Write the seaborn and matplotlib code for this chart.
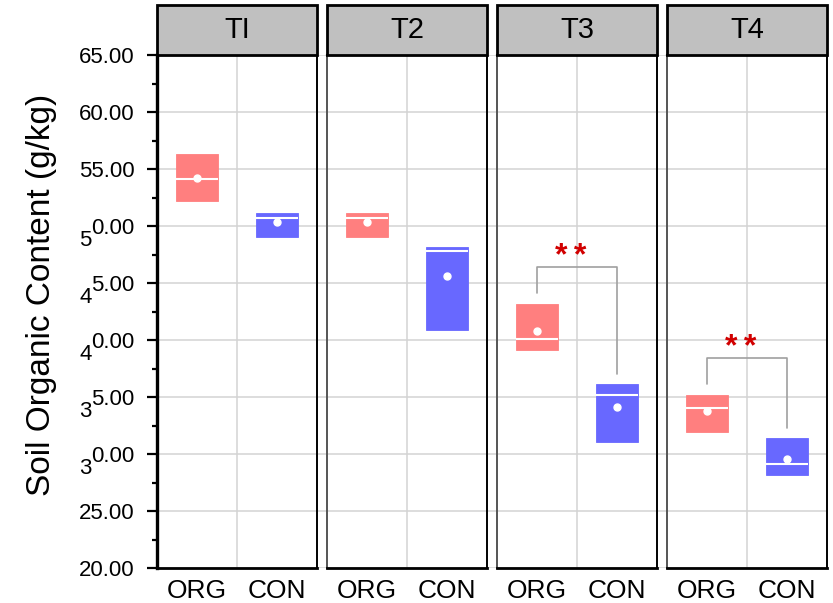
import matplotlib
matplotlib.use("Agg")
import matplotlib.pyplot as plt
from matplotlib.patches import Rectangle
from matplotlib.ticker import FuncFormatter, MultipleLocator
from matplotlib.transforms import IdentityTransform
import pandas as pd
import seaborn as sns

# ---- data ----------------------------------------------------------------
periods = ["TI", "T2", "T3", "T4"]
groups = ["ORG", "CON"]

org_low = [52.17, 49.06, 39.09, 31.94]
org_high = [56.30, 51.17, 43.18, 35.21]
org_median = [54.10, 50.73, 40.10, 34.05]
org_mean = [54.24, 50.35, 40.78, 33.76]

con_low = [49.06, 40.84, 31.06, 28.20]
con_high = [51.17, 48.17, 36.15, 31.36]
con_median = [50.73, 47.80, 35.19, 29.10]
con_mean = [50.35, 45.61, 34.13, 29.57]

significance = ["", "", "*\u2009*", "*\u2009*"]

y_ticks = [20, 25, 30, 35, 40, 45, 50, 55, 60, 65]
# tick labels whose leading digit is printed dropped below the rest
dropped_digit_ticks = [30, 35, 40, 45, 50]

palette = {"ORG": "#FF7F7F", "CON": "#6868FF"}

rows = []
for i, p in enumerate(periods):
    rows.append(dict(period=p, group="ORG", low=org_low[i], high=org_high[i],
                     median=org_median[i], mean=org_mean[i], sig=significance[i]))
    rows.append(dict(period=p, group="CON", low=con_low[i], high=con_high[i],
                     median=con_median[i], mean=con_mean[i], sig=significance[i]))
df = pd.DataFrame(rows)

# ---- style ---------------------------------------------------------------
sns.set_theme(style="white")
plt.rcParams["font.family"] = ["Liberation Sans", "DejaVu Sans"]

W, H, DPI = 833, 603, 100
grid_color = "#D3D3D3"


def draw_boxes(data, **kws):
    ax = plt.gca()
    data = data.set_index("group").loc[groups].reset_index()
    stats = [dict(med=r.median, q1=r.low, q3=r.high, whislo=r.low, whishi=r.high,
                  mean=r.mean, fliers=[]) for r in data.itertuples()]
    parts = ax.bxp(stats, positions=range(len(stats)), widths=0.52,
                   patch_artist=True, showmeans=True, showcaps=False,
                   showfliers=False, manage_ticks=False,
                   whiskerprops=dict(linewidth=0),
                   medianprops=dict(color="white", linewidth=1.5),
                   meanprops=dict(marker="o", markerfacecolor="white",
                                  markeredgecolor="white", markersize=5))
    for patch, grp in zip(parts["boxes"], data["group"]):
        patch.set_facecolor(palette[grp])
        patch.set_edgecolor(palette[grp])
        patch.set_linewidth(0.6)
        patch.set_zorder(2)
    for line in parts["medians"] + parts["means"]:
        line.set_zorder(3)

    # significance bracket between the two groups
    sig = data["sig"].iloc[0]
    if sig:
        leg_gap, rise = 0.9, 2.35
        y_left = data["high"].iloc[0] + leg_gap
        y_right = data["high"].iloc[1] + leg_gap
        y_top = max(y_left, y_right) + rise
        ax.plot([0, 0, 1, 1], [y_left, y_top, y_top, y_right],
                color="#A0A0A0", lw=1.2, zorder=2)
        ax.text(0.42, y_top + 0.15, sig, color="#D10000", fontsize=23,
                fontweight="bold", ha="center", va="baseline", zorder=4)


g = sns.FacetGrid(df, col="period", col_order=periods, sharey=True,
                  sharex=False, despine=False, height=5, aspect=0.3)
g.map_dataframe(draw_boxes)
fig = g.figure
fig.set_size_inches(W / DPI, H / DPI)
fig.set_dpi(DPI)
fig.patch.set_facecolor("white")
g.set_titles("")

left, right = 157 / W, 827 / W
bottom, top = 1 - 568 / H, 1 - 55 / H
fig.subplots_adjust(left=left, right=right, bottom=bottom, top=top,
                    wspace=10 / 160)

# horizontal grid running across all panels
bg = fig.add_axes([left, bottom, right - left, top - bottom], zorder=-1)
bg.set_ylim(20, 65)
for yv in y_ticks:
    bg.axhline(yv, color=grid_color, lw=1.1)
bg.axis("off")

axes = g.axes.flat
header_h = 50 / 513
for i, (ax, p) in enumerate(zip(axes, periods)):
    ax.set_facecolor("none")
    ax.set_xlim(-0.5, 1.5)
    ax.set_ylim(20, 65)
    ax.set_xticks(range(len(groups)))
    ax.set_xticklabels(groups)
    ax.set_xlabel("")
    ax.set_ylabel("")
    ax.axvline(0.5, color=grid_color, lw=1.1, zorder=0)
    ax.tick_params(axis="x", length=0, pad=8, labelsize=19, labelcolor="black")
    for side in ["top", "right", "bottom", "left"]:
        ax.spines[side].set_color("black")
        ax.spines[side].set_visible(True)
    ax.spines["bottom"].set_linewidth(2.0)
    ax.spines["right"].set_linewidth(1.4)
    ax.spines["top"].set_linewidth(1.5)
    if i == 0:
        ax.spines["left"].set_linewidth(2.4)
    else:
        ax.spines["left"].set_linewidth(1.4)
        ax.spines["left"].set_color("#555555")
        ax.tick_params(axis="y", which="both", length=0, labelleft=False)

    # panel header strip
    ax.add_patch(Rectangle((0, 1), 1, header_h, transform=ax.transAxes,
                           facecolor="#C0C0C0", edgecolor="black", lw=2,
                           clip_on=False, zorder=5))
    ax.text(0.5, 1 + header_h / 2, p, transform=ax.transAxes, ha="center",
            va="center", fontsize=21, color="black", zorder=6)

ax0 = g.axes.flat[0]
ax0.set_yticks(y_ticks)
ax0.yaxis.set_minor_locator(MultipleLocator(2.5))


def fmt(v, pos):
    s = f"{v:.2f}"
    return s[1:] if int(round(v)) in dropped_digit_ticks else s


ax0.yaxis.set_major_formatter(FuncFormatter(fmt))
ax0.tick_params(axis="y", which="major", direction="out", length=7.5,
                width=1.6, pad=8.5, labelsize=16, labelcolor="black",
                color="black", left=True)
ax0.tick_params(axis="y", which="minor", direction="out", length=3.8,
                width=1.6, color="black", left=True)

fig.text(42 / W, 1 - 295 / H, "Soil Organic Content (g/kg)", rotation=90,
         ha="center", va="center", fontsize=24, color="black")

# leading digits of the dropped labels
fig.canvas.draw()
renderer = fig.canvas.get_renderer()
for tick in ax0.yaxis.get_major_ticks():
    v = tick.get_loc()
    if int(round(v)) in dropped_digit_ticks:
        lab = tick.label1
        bb = lab.get_window_extent(renderer)
        x_anchor, y_anchor = lab.get_transform().transform(lab.get_position())
        fig.text(bb.x0, y_anchor - 12.3, f"{v:.2f}"[0],
                 transform=IdentityTransform(), ha="right",
                 va=lab.get_va(), fontsize=16, color="black")

fig.savefig("out.png", dpi=DPI)
